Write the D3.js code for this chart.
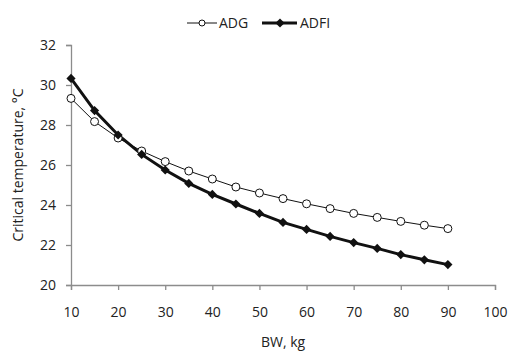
<!DOCTYPE html>
<html>
<head>
<meta charset="utf-8">
<script src="https://cdn.jsdelivr.net/npm/d3@7"></script>
<style>
  body { margin: 0; background: #fff; }
  text { font-family: "Open Sans", "Liberation Sans", sans-serif; fill: #222; }
</style>
</head>
<body>
<div id="chart"></div>
<script>
const bw = [10, 15, 20, 25, 30, 35, 40, 45, 50, 55, 60, 65, 70, 75, 80, 85, 90];
const adg = [29.33, 28.17, 27.35, 26.7, 26.17, 25.7, 25.3, 24.9, 24.6, 24.32, 24.06, 23.82, 23.58, 23.38, 23.18, 22.99, 22.82];
const adfi = [30.33, 28.72, 27.5, 26.53, 25.75, 25.08, 24.53, 24.05, 23.58, 23.13, 22.78, 22.43, 22.12, 21.83, 21.52, 21.26, 21.02];
const xTicks = [10, 20, 30, 40, 50, 60, 70, 80, 90, 100];
const yTicks = [20, 22, 24, 26, 28, 30, 32];

const W = 522, H = 361;
const margin = { top: 45, right: 27, bottom: 76, left: 71 };
const width = W - margin.left - margin.right;
const height = H - margin.top - margin.bottom;

const svg = d3.select("#chart")
    .append("svg")
    .attr("width", W)
    .attr("height", H)
    .append("g")
    .attr("transform", `translate(${margin.left}, ${margin.top})`);

const x = d3.scaleLinear().domain([10, 100]).range([0, width]);
const y = d3.scaleLinear().domain([20, 32]).range([height, 0]);

const axisColor = "#8c8c8c";

const xAxis = svg.append("g")
    .attr("transform", `translate(0, ${height})`)
    .call(d3.axisBottom(x).tickValues(xTicks).tickSize(5).tickPadding(17));
const yAxis = svg.append("g")
    .call(d3.axisLeft(y).tickValues(yTicks).tickSize(5).tickPadding(10));

[xAxis, yAxis].forEach(a => {
    a.select(".domain").attr("stroke", axisColor).attr("stroke-width", 1.3);
    a.selectAll(".tick line").attr("stroke", axisColor).attr("stroke-width", 1.3);
    a.selectAll(".tick text").style("font-size", "14px").style("fill", "#222");
});

svg.append("text")
    .attr("x", width / 2)
    .attr("y", height + 62)
    .attr("text-anchor", "middle")
    .style("font-size", "14px")
    .text("BW, kg");

svg.append("text")
    .attr("transform", "rotate(-90)")
    .attr("x", -height / 2)
    .attr("y", -48)
    .attr("text-anchor", "middle")
    .style("font-size", "14px")
    .text("Critical temperature, °C");

const line = d3.line().x((d, i) => x(bw[i])).y(d => y(d));

svg.append("path")
    .datum(adg)
    .attr("fill", "none")
    .attr("stroke", "#111")
    .attr("stroke-width", 1)
    .attr("d", line);

svg.append("path")
    .datum(adfi)
    .attr("fill", "none")
    .attr("stroke", "#111")
    .attr("stroke-width", 3)
    .attr("d", line);

svg.selectAll(".adg-pt")
    .data(adg)
    .enter()
    .append("circle")
    .attr("class", "adg-pt")
    .attr("cx", (d, i) => x(bw[i]))
    .attr("cy", d => y(d))
    .attr("r", 4)
    .attr("fill", "#fff")
    .attr("stroke", "#111")
    .attr("stroke-width", 1);

// excel-style diamond: square turned 45 degrees
const diamond = d3.symbol().type(d3.symbolSquare).size(42);
svg.selectAll(".adfi-pt")
    .data(adfi)
    .enter()
    .append("path")
    .attr("class", "adfi-pt")
    .attr("transform", (d, i) => `translate(${x(bw[i])}, ${y(d)}) rotate(45)`)
    .attr("d", diamond)
    .attr("fill", "#111");

// legend
const legend = d3.select("svg").append("g").attr("transform", "translate(0, 23)");
legend.append("line").attr("x1", 187).attr("x2", 217).attr("stroke", "#111").attr("stroke-width", 1);
legend.append("circle").attr("cx", 202).attr("r", 3).attr("fill", "#fff").attr("stroke", "#111");
legend.append("text").attr("x", 219).attr("y", 5).style("font-size", "14px").text("ADG");
legend.append("line").attr("x1", 262).attr("x2", 297).attr("stroke", "#111").attr("stroke-width", 3);
legend.append("path").attr("transform", "translate(280, 0) rotate(45)").attr("d", diamond).attr("fill", "#111");
legend.append("text").attr("x", 300).attr("y", 5).style("font-size", "14px").text("ADFI");
</script>
</body>
</html>
